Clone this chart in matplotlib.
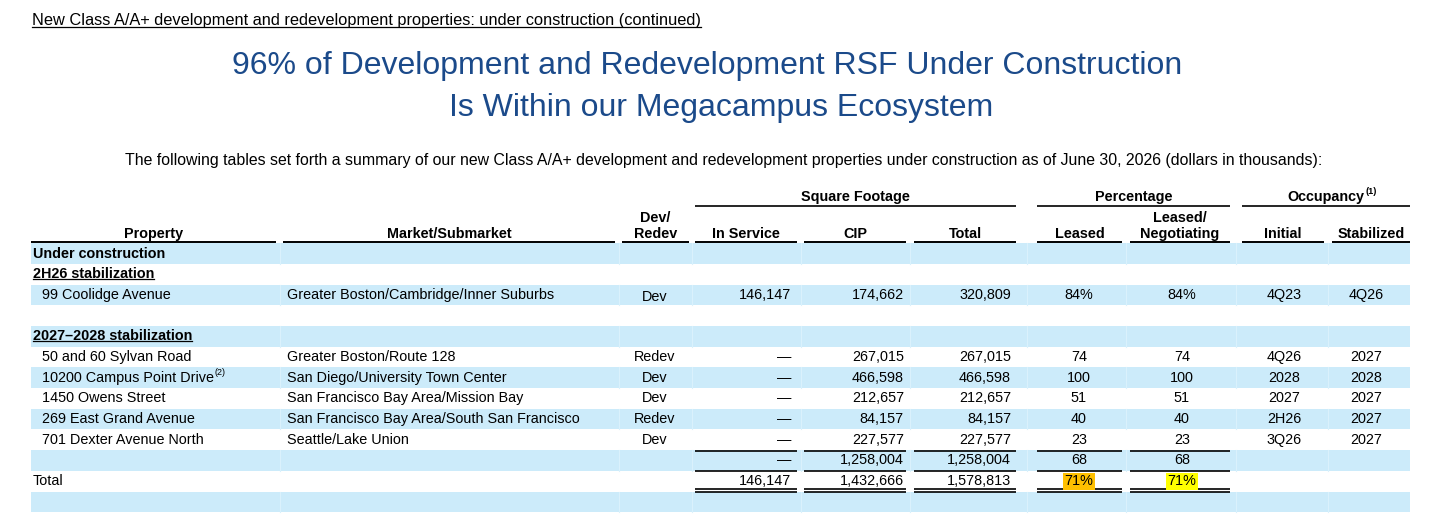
import matplotlib
matplotlib.use("Agg")
import matplotlib.pyplot as plt
from matplotlib.patches import Rectangle

# ---------------- data ----------------
section_title = "New Class A/A+ development and redevelopment properties: under construction (continued)"
headline = ["96% of Development and Redevelopment RSF Under Construction",
            "Is Within our Megacampus Ecosystem"]
intro = ("The following tables set forth a summary of our new Class A/A+ development and redevelopment "
         "properties under construction as of June 30, 2026 (dollars in thousands):")

group_labels = ["Square Footage", "Percentage", "Occupancy"]
col_labels = ["Property", "Market/Submarket", "Dev/\nRedev", "In Service", "CIP", "Total",
              "Leased", "Leased/\nNegotiating", "Initial", "Stabilized"]

properties = ["99 Coolidge Avenue", "50 and 60 Sylvan Road", "10200 Campus Point Drive",
              "1450 Owens Street", "269 East Grand Avenue", "701 Dexter Avenue North"]
property_notes = ["", "", "(2)", "", "", ""]
markets = ["Greater Boston/Cambridge/Inner Suburbs", "Greater Boston/Route 128",
           "San Diego/University Town Center", "San Francisco Bay Area/Mission Bay",
           "San Francisco Bay Area/South San Francisco", "Seattle/Lake Union"]
dev_redev = ["Dev", "Redev", "Dev", "Dev", "Redev", "Dev"]
in_service = ["146,147", "—", "—", "—", "—", "—"]
cip = ["174,662", "267,015", "466,598", "212,657", "84,157", "227,577"]
total_rsf = ["320,809", "267,015", "466,598", "212,657", "84,157", "227,577"]
leased = ["84%", "74", "100", "51", "40", "23"]
leased_neg = ["84%", "74", "100", "51", "40", "23"]
initial = ["4Q23", "4Q26", "2028", "2027", "2H26", "3Q26"]
stabilized = ["4Q26", "2027", "2028", "2027", "2027", "2027"]

subtotal_vals = ["—", "1,258,004", "1,258,004", "68", "68"]
total_vals = ["146,147", "1,432,666", "1,578,813", "71%", "71%"]

# ---------------- style ----------------
W, H = 1456, 523
NARROW = ["Liberation Sans", "DejaVu Sans"]
REG = ["Liberation Sans", "DejaVu Sans"]
BAND = "#CCEBFA"
TITLE_C = "#1B4A8A"
FS = 10.4

fig = plt.figure(figsize=(W / 100, H / 100), dpi=100)
ax = fig.add_axes([0, 0, 1, 1])
ax.set_xlim(0, W)
ax.set_ylim(H, 0)
ax.axis("off")

# column extents (header underline spans)
cols = [(31, 276), (283, 615), (622, 689), (695, 797), (804, 906), (914, 1016),
        (1037, 1122), (1130, 1230), (1242, 1324), (1332, 1410)]

row0, dy = 253.5, 20.7
nrows = 13
def ry(i):
    return row0 + dy * i

# bands
for i in range(0, nrows, 2):
    ax.add_patch(Rectangle((31, ry(i) - dy / 2), 1410 - 31, dy, facecolor=BAND,
                           edgecolor="none", zorder=0))
# faint seams between columns
for (a, b), (c, d) in zip(cols[:-1], cols[1:]):
    xm = (b + c) / 2
    for i in range(0, nrows, 2):
        ax.plot([xm, xm], [ry(i) - dy / 2, ry(i) + dy / 2], color="#DAF1FC", lw=0.8, zorder=0.5)

def hline(x0, x1, y, lw=1.2):
    ax.plot([x0, x1], [y, y], color="black", lw=lw, solid_capstyle="butt", zorder=2)

texts_to_underline = []

def txt(x, y, s, ha="left", fam=NARROW, size=FS, weight="normal", color="black", **kw):
    return ax.text(x, y, s, ha=ha, va="center", fontfamily=fam, fontsize=size,
                   fontweight=weight, color=color, zorder=3, **kw)

# top texts
t = txt(32, 21, section_title, fam=REG, size=11.75)
texts_to_underline.append((t, 0.9))
txt(707, 66, headline[0], ha="center", fam=REG, size=23, color=TITLE_C)
txt(721, 108, headline[1], ha="center", fam=REG, size=23, color=TITLE_C)
txt(724, 161, intro, ha="center", fam=REG, size=11.4)

# group headers
grp_spans = [(cols[3][0], cols[5][1]), (cols[6][0], cols[7][1]), (cols[8][0], cols[9][1])]
for lab, (a, b) in zip(group_labels, grp_spans):
    cx = (a + b) / 2
    tt = txt(cx, 197, lab, ha="center", weight="bold")
    hline(a, b, 205.5)
    if lab == "Occupancy":
        occ_text = tt

# column headers
for lab, (a, b) in zip(col_labels, cols):
    cx = (a + b) / 2
    if "\n" in lab:
        l1, l2 = lab.split("\n")
        txt(cx, 218.5, l1, ha="center", weight="bold")
        txt(cx, 234, l2, ha="center", weight="bold")
    else:
        txt(cx, 234, lab, ha="center", weight="bold")
    hline(a, b, 242, lw=1.4)

# section labels
txt(33, ry(0), "Under construction", weight="bold")
t = txt(33, ry(1), "2H26 stabilization", weight="bold")
texts_to_underline.append((t, 0.9))
t = txt(33, ry(4), "2027–2028 stabilization", weight="bold")
texts_to_underline.append((t, 0.9))

# property rows
prop_rows = [2, 5, 6, 7, 8, 9]
note_texts = []
num_right = [791, 904, 1011]
pct_center = [1079, 1182]
occ_center = [1284, 1366]
for k, r in enumerate(prop_rows):
    y = ry(r)
    t = txt(42, y, properties[k])
    if property_notes[k]:
        note_texts.append((t, property_notes[k]))
    txt(287, y, markets[k])
    txt(655, y + (2 if r == 2 else 0), dev_redev[k], ha="center")
    for x, v in zip(num_right, [in_service[k], cip[k], total_rsf[k]]):
        txt(x, y, v, ha="right")
    for x, v in zip(pct_center, [leased[k], leased_neg[k]]):
        txt(x, y, v, ha="center")
    for x, v in zip(occ_center, [initial[k], stabilized[k]]):
        txt(x, y, v, ha="center")

# subtotal and total
num_cols = cols[3:8]
for (a, b) in num_cols:
    hline(a, b, ry(10) - dy / 2 + 0.5)
    hline(a, b, ry(11) - dy / 2 + 0.5)
    hline(a, b, ry(11) + dy / 2 - 2.5)
    hline(a, b, ry(11) + dy / 2 + 0.5)

for x, v in zip(num_right, subtotal_vals[:3]):
    txt(x, ry(10), v, ha="right")
for x, v in zip(pct_center, subtotal_vals[3:]):
    txt(x, ry(10), v, ha="center")

txt(33, ry(11), "Total")
for x, v in zip(num_right, total_vals[:3]):
    txt(x, ry(11), v, ha="right")
for x, v, hc in zip(pct_center, total_vals[3:], ["#FFC000", "#FFFF00"]):
    txt(x, ry(11), v, ha="center",
        bbox=dict(facecolor=hc, edgecolor="none", pad=1.0))

# underlines and superscripts
fig.canvas.draw()
r = fig.canvas.get_renderer()
inv = ax.transData.inverted()
def extent(t):
    bb = t.get_window_extent(renderer=r)
    (x0, y0), (x1, y1) = inv.transform([[bb.x0, bb.y0], [bb.x1, bb.y1]])
    return x0, x1, max(y0, y1), min(y0, y1)

for t, lw in texts_to_underline:
    x0, x1, yb, yt = extent(t)
    ax.plot([x0, x1], [yb - 2, yb - 2], color="black", lw=lw, zorder=3)

x0, x1, yb, yt = extent(occ_text)
txt(x1 + 0.5, 192, "(1)", size=6.5, weight="bold")
for t, note in note_texts:
    x0, x1, yb, yt = extent(t)
    txt(x1 + 0.5, t.get_position()[1] - 5, note, size=6.5)

fig.savefig("out.png", dpi=100)
